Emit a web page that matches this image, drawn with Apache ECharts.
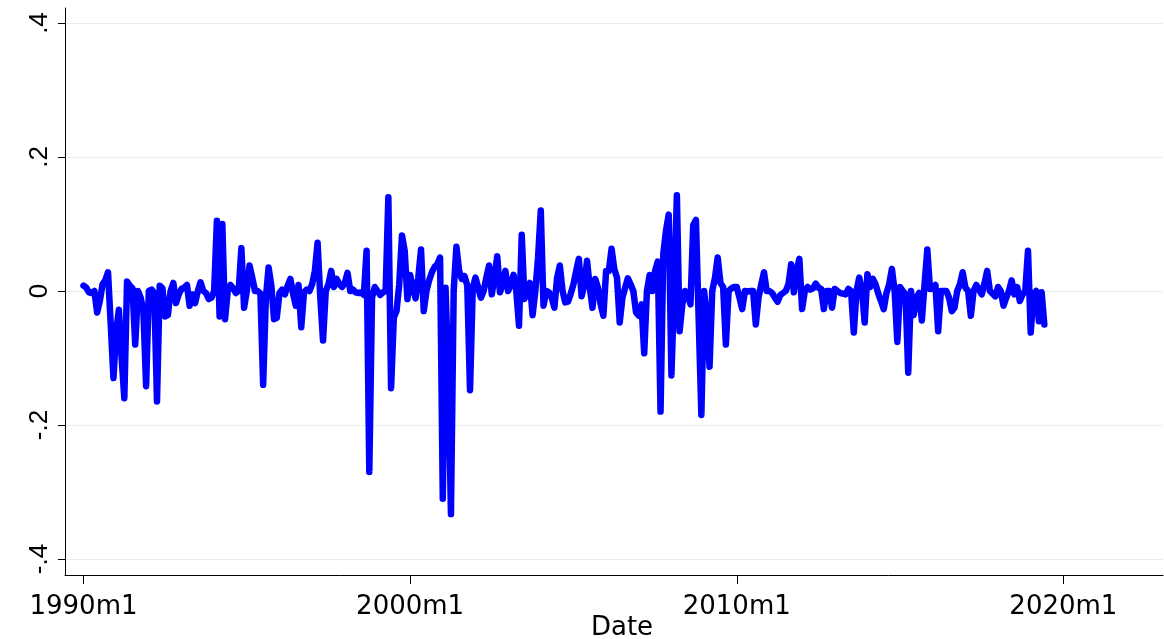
<!DOCTYPE html>
<html><head><meta charset="utf-8">
<script src="https://cdn.jsdelivr.net/npm/echarts@6/dist/echarts.min.js"></script>
<style>html,body{margin:0;padding:0;background:#fff}#c{width:1164px;height:639px}</style>
</head><body><div id="c"></div>
<script>
// monthly values, 1990m1 .. 2019m6
const values1990s = [
  0.008, 0.005, -0.002, -0.003, 0.0, -0.032, -0.015, 0.01, 0.016, 0.028, -0.05, -0.13,
  -0.06, -0.028, -0.1, -0.16, 0.014, 0.008, 0.004, -0.08, 0.0, -0.01, -0.03, -0.142,
  0.0, 0.002, -0.003, -0.165, 0.008, 0.004, -0.038, -0.036, 0.0, 0.012, -0.018, -0.005,
  0.003, 0.005, 0.009, -0.022, -0.005, -0.018, 0.0, 0.013, 0.0, -0.003, -0.012, -0.01,
  0.0, 0.105, -0.038, 0.1, -0.042, 0.0, 0.009, 0.004, -0.003, 0.0, 0.064, -0.025,
  0.0, 0.038, 0.02, 0.0, 0.0, -0.004, -0.14, -0.01, 0.035, 0.008, -0.042, -0.04,
  -0.003, 0.002, -0.005, 0.008, 0.018, -0.004, -0.022, 0.009, -0.054, -0.002, 0.002, 0.0,
  0.01, 0.03, 0.072, -0.01, -0.074, 0.0, 0.01, 0.03, 0.006, 0.018, 0.01, 0.006,
  0.012, 0.027, 0.0, 0.002, -0.002, -0.003, -0.002, -0.006, 0.06, -0.27, -0.01, 0.006,
  0.0, -0.006, -0.002, 0.0, 0.14, -0.145, -0.04, -0.03, 0.01, 0.083, 0.06, -0.012
];
const values2000s = [
  0.024, 0.004, -0.011, 0.02, 0.062, -0.03, 0.0, 0.016, 0.028, 0.036, 0.04, 0.05,
  -0.31, 0.005, -0.12, -0.333, 0.0, 0.066, 0.03, 0.018, 0.022, 0.008, -0.148, 0.004,
  0.02, 0.005, -0.01, 0.0, 0.02, 0.038, -0.005, 0.02, 0.052, -0.002, 0.01, 0.03,
  0.0, 0.01, 0.024, 0.0, -0.052, 0.084, -0.012, 0.0, 0.012, -0.036, 0.0, 0.05,
  0.12, -0.022, 0.0, -0.002, -0.01, -0.025, 0.02, 0.038, 0.0, -0.017, -0.016, -0.004,
  0.01, 0.03, 0.048, -0.008, 0.01, 0.045, 0.005, -0.025, 0.018, 0.005, -0.02, -0.037,
  0.03, 0.03, 0.063, 0.033, 0.02, -0.047, -0.01, 0.005, 0.019, 0.01, 0.0, -0.032,
  -0.037, -0.02, -0.093, 0.0, 0.024, 0.0, 0.03, 0.044, -0.18, 0.055, 0.09, 0.114,
  -0.126, 0.0, 0.143, -0.06, -0.02, 0.0, -0.005, -0.02, 0.098, 0.106, -0.04, -0.185,
  0.0, -0.04, -0.113, 0.0, 0.02, 0.05, 0.012, 0.006, -0.08, 0.0, 0.004, 0.006
];
const values2010s = [
  0.006, -0.01, -0.027, 0.0, -0.001, 0.0, 0.0, -0.05, -0.01, 0.01, 0.028, 0.0,
  0.0, -0.003, -0.01, -0.016, -0.006, -0.003, 0.0, 0.01, 0.04, -0.002, 0.03, 0.048,
  -0.027, 0.0, 0.006, 0.002, 0.004, 0.011, 0.005, 0.003, -0.027, 0.0, 0.0, -0.025,
  0.003, 0.0, -0.003, -0.004, -0.005, 0.003, 0.0, -0.062, 0.0, 0.02, 0.0, -0.047,
  0.025, 0.006, 0.018, 0.01, -0.004, -0.015, -0.027, -0.003, 0.01, 0.033, 0.0, -0.076,
  0.006, 0.0, -0.005, -0.122, 0.0, -0.036, -0.01, -0.003, -0.044, 0.01, 0.062, 0.003,
  0.004, 0.009, -0.06, 0.0, 0.0, 0.0, -0.01, -0.03, -0.025, 0.0, 0.01, 0.028,
  0.005, 0.0, -0.037, 0.0, 0.009, 0.002, -0.005, 0.011, 0.03, 0.0, -0.004, -0.008,
  0.006, 0.0, -0.022, -0.01, 0.0, 0.016, -0.005, 0.006, -0.015, -0.005, 0.0, 0.06,
  -0.062, -0.005, 0.0, -0.045, -0.002, -0.05
];
// x ticks: months since 1990m1
const xTickMonths = [0, 120, 240, 360];
const xTickLabels = ['1990m1', '2000m1', '2010m1', '2020m1'];
const yTickValues = [-0.4, -0.2, 0, 0.2, 0.4];
const yTickLabels = ['-.4', '-.2', '0', '.2', '.4'];
const xName = 'Date';

const allValues = values1990s.concat(values2000s, values2010s);
const seriesData = allValues.map((v, i) => [i, v]);

const chart = echarts.init(document.getElementById('c'), null, {renderer: 'canvas'});
chart.setOption({
  animation: false,
  backgroundColor: '#ffffff',
  grid: {left: 65, right: 1, top: 8, bottom: 64, containLabel: false, outerBoundsMode: 'none'},
  xAxis: {
    type: 'value',
    min: -6.8,
    max: 396.6,
    name: xName,
    nameLocation: 'middle',
    nameGap: 40,
    nameMoveOverlap: false,
    nameTextStyle: {fontFamily: 'DejaVu Sans', fontSize: 26, color: '#000', padding: [0, 0, 0, 16]},
    axisLine: {show: true, onZero: false, lineStyle: {color: '#000', width: 1}},
    axisTick: {show: true, length: 9, customValues: xTickMonths, lineStyle: {color: '#000', width: 1}},
    axisLabel: {
      customValues: xTickMonths,
      margin: 19,
      fontFamily: 'DejaVu Sans', fontSize: 26, color: '#000',
      formatter: v => { const k = xTickMonths.indexOf(Math.round(v)); return k >= 0 ? xTickLabels[k] : ''; }
    },
    splitLine: {show: false}
  },
  yAxis: {
    type: 'value',
    min: -0.4239,
    max: 0.4224,
    axisLine: {show: true, onZero: false, lineStyle: {color: '#000', width: 1}},
    axisTick: {show: true, length: 7, customValues: yTickValues, lineStyle: {color: '#000', width: 1}},
    axisLabel: {
      customValues: yTickValues,
      rotate: 90,
      margin: 12,
      fontFamily: 'Liberation Sans', fontSize: 26, color: '#000',
      formatter: v => { let k = -1; yTickValues.forEach((t, j) => { if (Math.abs(t - v) < 1e-6) k = j; }); return k >= 0 ? yTickLabels[k] : ''; }
    },
    splitLine: {show: true, lineStyle: {color: '#e6eef0', width: 1}}
  },
  series: [{
    type: 'line',
    data: seriesData,
    showSymbol: false,
    symbol: 'none',
    sampling: null,
    lineStyle: {color: '#0000ff', width: 6.5, cap: 'round', join: 'round'},
    z: 3
  }]
});
</script>
</body></html>
